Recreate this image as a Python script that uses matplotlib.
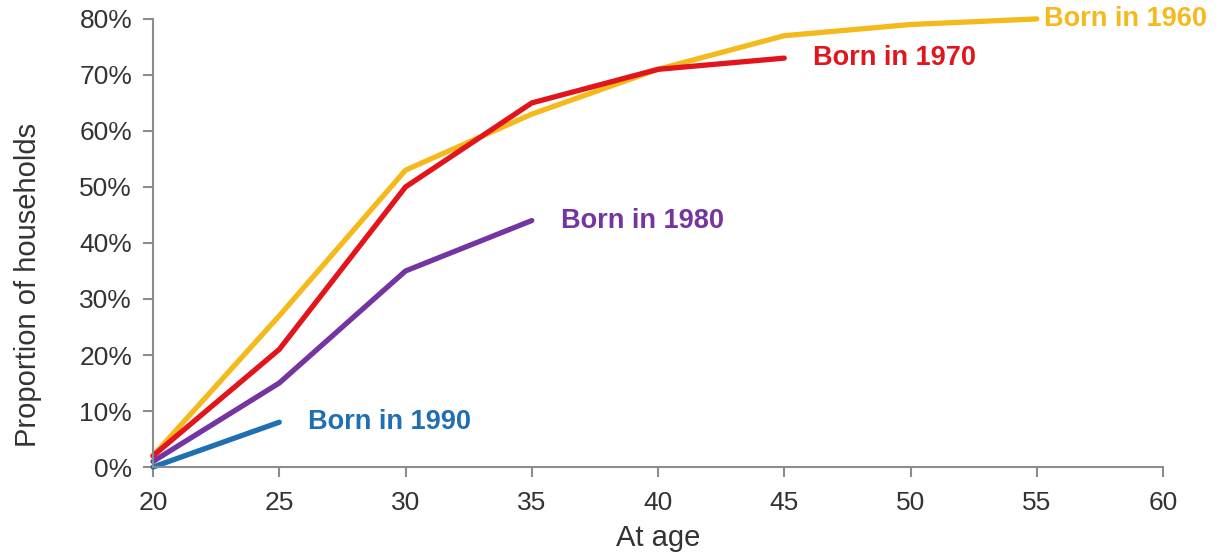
import matplotlib
matplotlib.use("Agg")
import matplotlib.pyplot as plt
from matplotlib.ticker import PercentFormatter

plt.rcParams['font.family'] = ['Liberation Sans', 'DejaVu Sans']

ages_1960 = [20, 25, 30, 35, 40, 45, 50, 55]
vals_1960 = [2, 27, 53, 63, 71, 77, 79, 80]
ages_1970 = [20, 25, 30, 35, 40, 45]
vals_1970 = [2, 21, 50, 65, 71, 73]
ages_1980 = [20, 25, 30, 35]
vals_1980 = [1, 15, 35, 44]
ages_1990 = [20, 25]
vals_1990 = [0, 8]

labels = ["Born in 1960", "Born in 1970", "Born in 1980", "Born in 1990"]
colors = ["#F4BA1C", "#E2141C", "#7434A2", "#1F6FB2"]

x_ticks = [20, 25, 30, 35, 40, 45, 50, 55, 60]
y_ticks = [0, 10, 20, 30, 40, 50, 60, 70, 80]

fig = plt.figure(figsize=(12.25, 5.56), dpi=100)
ax = fig.add_axes([0.1249, 0.160, 0.8245, 0.806])

series = [(ages_1960, vals_1960), (ages_1970, vals_1970),
          (ages_1980, vals_1980), (ages_1990, vals_1990)]
for (xs, ys), c in zip(series, colors):
    ax.plot(xs, ys, color=c, lw=3.8, solid_capstyle='round', solid_joinstyle='round', clip_on=False)

offsets = [(0.3, 0), (1.15, 0), (1.15, 0), (1.15, 0)]
for (xs, ys), c, lab, (dx, dy) in zip(series, colors, labels, offsets):
    ax.text(xs[-1] + dx, ys[-1] + dy, lab, color=c, fontsize=19.5, fontweight='bold',
            va='center', ha='left', clip_on=False)

ax.set_xlim(20, 60)
ax.set_ylim(0, 80)
ax.set_xticks(x_ticks)
ax.set_yticks(y_ticks)
ax.yaxis.set_major_formatter(PercentFormatter(decimals=0))
for s in ['top', 'right']:
    ax.spines[s].set_visible(False)
for s in ['left', 'bottom']:
    ax.spines[s].set_color('#8c8c8c')
    ax.spines[s].set_linewidth(1.5)
ax.tick_params(axis='both', colors='#8c8c8c', labelcolor='#333333', labelsize=19,
               length=7, width=1.5, direction='out')
ax.tick_params(axis='y', pad=8)
ax.tick_params(axis='x', pad=10)
ax.set_xlabel("At age", fontsize=21, color='#333333')
ax.set_ylabel("Proportion of households", fontsize=21, color='#333333')
ax.xaxis.set_label_coords(0.5, -0.128)
ax.yaxis.set_label_coords(-0.11, 0.406)

fig.savefig("out.png", dpi=100, facecolor='white')
